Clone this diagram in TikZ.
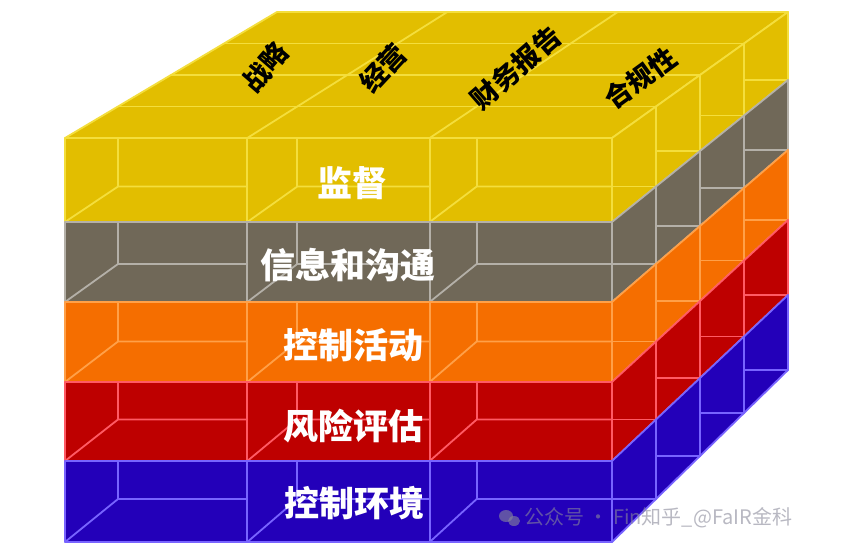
\documentclass[tikz,border=0pt]{standalone}
\usepackage{fontspec}
\newfontfamily\cjk{Noto Sans CJK SC}
\usetikzlibrary{calc}
\definecolor{yF}{HTML}{E2BE00}
\definecolor{yL}{HTML}{F4DE3C}
\definecolor{gF}{HTML}{706858}
\definecolor{gL}{HTML}{B4B0A8}
\definecolor{oF}{HTML}{F56E00}
\definecolor{oL}{HTML}{FFA048}
\definecolor{rF}{HTML}{BE0000}
\definecolor{rL}{HTML}{FF5A64}
\definecolor{bF}{HTML}{2300B9}
\definecolor{bL}{HTML}{7864FF}
\definecolor{wmC}{HTML}{8A8A9A}
\tikzset{
  grid line/.style={line width=1.8pt},
  layerlab/.style={inner sep=0pt, text=white, font=\cjk\bfseries\fontsize{35pt}{40pt}\selectfont},
  toplab/.style={inner sep=0pt, text=black, font=\cjk\bfseries\fontsize{27pt}{30pt}\selectfont},
  wmark/.style={inner sep=0pt, anchor=west, text=wmC, opacity=0.6, font=\cjk\fontsize{20pt}{22pt}\selectfont}
}
\begin{document}
\begin{tikzpicture}[x=1pt, y=-1pt, line join=round, line cap=round]
\useasboundingbox (0,0) rectangle (842,554);
\fill[white] (0,0) rectangle (842,554);
% grid coordinates P-i-j-d : column i, layer boundary j, depth d
\foreach \i in {0,...,3}{
  \foreach \j in {0,...,5}{
    \pgfmathsetmacro\XF{{65,247.3,429.7,612}[\i]}
    \pgfmathsetmacro\YF{{138,222,302,382,461,542}[\j]}
    \pgfmathsetmacro\XB{{277,447.3,617.7,788}[\i]}
    \pgfmathsetmacro\YB{{12,80,150,220,295,370}[\j]}
    \foreach \d in {0,...,4}{
      \coordinate (P-\i-\j-\d) at ({\XF+(\XB-\XF)*\d/4},{\YF+(\YB-\YF)*\d/4});
    }
  }
}
% top face
\fill[yF] (P-0-0-0) -- (P-3-0-0) -- (P-3-0-4) -- (P-0-0-4) -- cycle;
\begin{scope}[draw=yL, grid line]
  \foreach \d in {1,2,3}{ \draw (P-0-0-\d) -- (P-3-0-\d); }
  \draw (P-1-0-0) -- (P-1-0-4);
  \draw (P-2-0-0) -- (P-2-0-4);
  \draw (P-0-0-0) -- (P-0-0-4) -- (P-3-0-4) -- (P-3-0-0);
\end{scope}
% layers
\foreach \j/\fc/\lc in {0/yF/yL, 1/gF/gL, 2/oF/oL, 3/rF/rL, 4/bF/bL}{
  \pgfmathtruncatemacro\k{\j+1}
  \fill[\fc] (P-0-\j-0) rectangle (P-3-\k-0);
  \fill[\fc] (P-3-\j-0) -- (P-3-\j-4) -- (P-3-\k-4) -- (P-3-\k-0) -- cycle;
  \begin{scope}[draw=\lc, grid line]
    \draw (P-1-\j-0) -- (P-1-\k-0);
    \draw (P-2-\j-0) -- (P-2-\k-0);
    \foreach \i in {0,1,2}{
      \pgfmathtruncatemacro\ii{\i+1}
      \draw (P-\i-\k-0) -- (P-\i-\k-1) -- (P-\i-\k-1 -| P-\ii-\k-0);
      \draw (P-\i-\k-1) -- (P-\i-\k-1 |- P-\i-\j-0);
    }
    \foreach \d in {1,2,3}{ \draw (P-3-\j-\d) -- (P-3-\k-\d); }
    \foreach \d in {0,1,2,3}{
      \pgfmathtruncatemacro\dd{\d+1}
      \draw (P-3-\k-\dd -| P-3-\j-\d) -- (P-3-\k-\dd);
    }
    \draw (P-0-\j-0) -- (P-3-\j-0) -- (P-3-\j-4);
    \draw (P-0-\j-0) -- (P-0-\k-0) -- (P-3-\k-0) -- (P-3-\k-4) -- (P-3-\j-4);
    \draw (P-3-\j-0) -- (P-3-\k-0);
  \end{scope}
}
% front labels
\node[layerlab] (c1) at (352,183) {监督};
\node[layerlab] (c2) at (348,265) {信息和沟通};
\node[layerlab] (c3) at (353,345) {控制活动};
\node[layerlab] (c4) at (353,426) {风险评估};
\node[layerlab] (c5) at (354,503) {控制环境};
% top labels
\node[toplab, rotate=49] (o1) at (265,67) {战略};
\node[toplab, rotate=47] (o2) at (383,68) {经营};
\node[toplab, rotate=41] (o3) at (516,68) {财务报告};
\node[toplab, rotate=36] (o4) at (640,78) {合规性};
% watermark
\fill[wmC, opacity=0.6] (506,516) ellipse (7pt and 6pt);
\fill[wmC, opacity=0.6] (514,521) ellipse (6pt and 5pt);
\node[wmark] (wm) at (524,518) {公众号 · Fin知乎\_@FaIR金科};
\end{tikzpicture}
\end{document}
